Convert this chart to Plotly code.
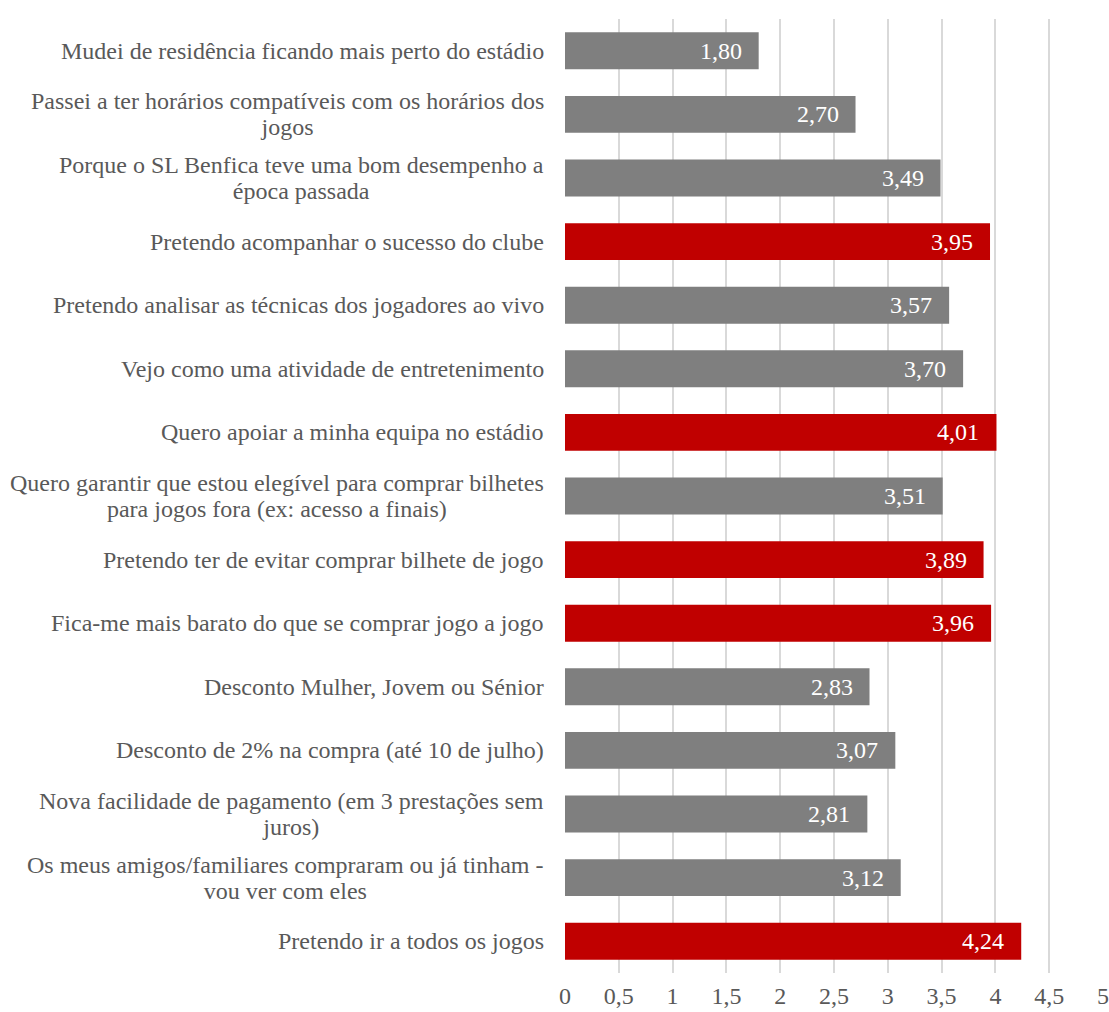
import plotly.graph_objects as go

# Survey items (top to bottom) and their mean scores
categories = [
    "Mudei de residência ficando mais perto do estádio",
    "Passei a ter horários compatíveis com os horários dos<br>jogos",
    "Porque o SL Benfica teve uma bom desempenho a<br>época passada",
    "Pretendo acompanhar o sucesso do clube",
    "Pretendo analisar as técnicas dos jogadores ao vivo",
    "Vejo como uma atividade de entretenimento",
    "Quero apoiar a minha equipa no estádio",
    "Quero garantir que estou elegível para comprar bilhetes<br>para jogos fora (ex: acesso a finais)",
    "Pretendo ter de evitar comprar bilhete de jogo",
    "Fica-me mais barato do que se comprar jogo a jogo",
    "Desconto Mulher, Jovem ou Sénior",
    "Desconto de 2% na compra (até 10 de julho)",
    "Nova facilidade de pagamento (em 3 prestações sem<br>juros)",
    "Os meus amigos/familiares compraram ou já tinham -<br>vou ver com eles",
    "Pretendo ir a todos os jogos",
]
values = [1.80, 2.70, 3.49, 3.95, 3.57, 3.70, 4.01, 3.51, 3.89, 3.96, 2.83, 3.07, 2.81, 3.12, 4.24]
highlight = [False, False, False, True, False, False, True, False, True, True, False, False, False, False, True]

tick_vals = [0, 0.5, 1, 1.5, 2, 2.5, 3, 3.5, 4, 4.5, 5]
tick_text = ["0", "0,5", "1", "1,5", "2", "2,5", "3", "3,5", "4", "4,5", "5"]

GREY = "#7f7f7f"
RED = "#c00000"
FONT = "Liberation Serif"
TEXT_GREY = "#595959"
TEXT_PX = 24

idx = list(range(len(categories)))
colors = [RED if h else GREY for h in highlight]

fig = go.Figure(
    go.Bar(
        x=values,
        y=idx,
        orientation="h",
        marker=dict(color=colors, line=dict(width=0)),
        width=0.58,
        hoverinfo="skip",
    )
)


def sized(label):
    # larger glyphs inside a smaller base font keep the line spacing tight
    return "<br>".join(f'<span style="font-size:{TEXT_PX}px">{part}</span>'
                       for part in label.split("<br>"))


annotations = []
# category labels, each line centred
for i, c in enumerate(categories):
    annotations.append(dict(
        x=0, xref="paper", y=i, yref="y", text=sized(c), showarrow=False,
        xanchor="right", yanchor="middle", align="center", xshift=-19,
        font=dict(family=FONT, size=20, color=TEXT_GREY),
    ))
# value labels inside the bar ends
for i, v in enumerate(values):
    annotations.append(dict(
        x=v, xref="x", y=i, yref="y", text=f"{v:.2f}".replace(".", ","),
        showarrow=False, xanchor="right", yanchor="middle", xshift=-15,
        font=dict(family=FONT, size=TEXT_PX, color="white"),
    ))

fig.update_layout(
    width=1109, height=1012,
    margin=dict(l=565, r=6, t=19, b=39),
    paper_bgcolor="white", plot_bgcolor="white",
    showlegend=False,
    annotations=annotations,
    xaxis=dict(
        range=[0, 5], tickvals=tick_vals, ticktext=tick_text,
        showgrid=True, gridcolor="#d9d9d9", gridwidth=1.5,
        zeroline=False, showline=False, automargin=False,
        tickfont=dict(family=FONT, size=TEXT_PX, color=TEXT_GREY),
        ticklabelstandoff=6,
    ),
    yaxis=dict(
        range=[14.5, -0.5], showticklabels=False, showgrid=False,
        zeroline=False, showline=False,
    ),
)

fig.write_html("out.html")
